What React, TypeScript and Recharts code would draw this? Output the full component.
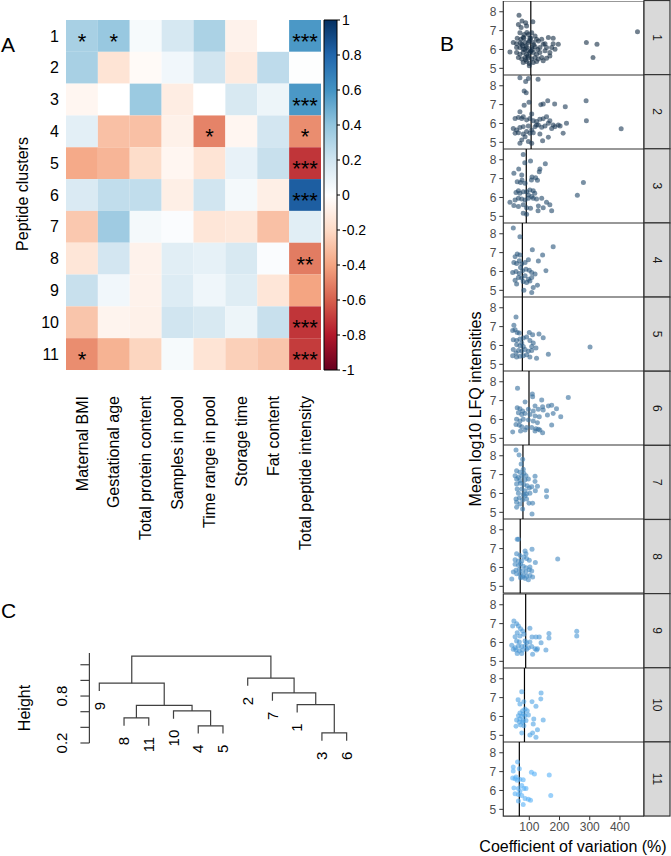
import React from 'react';
import { ScatterChart, Scatter, XAxis, YAxis, ReferenceLine, ReferenceArea } from 'recharts';

const FONT = '"Liberation Sans", Arial, Helvetica, sans-serif';

// ---------- A: correlation heatmap ----------
const variables = [
  'Maternal BMI',
  'Gestational age',
  'Total protein content',
  'Samples in pool',
  'Time range in pool',
  'Storage time',
  'Fat content',
  'Total peptide intensity',
];
const clusterNames = ['1', '2', '3', '4', '5', '6', '7', '8', '9', '10', '11'];

const corrRows: number[][] = [
  [0.33, 0.38, 0.04, 0.18, 0.32, -0.07, 0.0, 0.58],
  [0.33, -0.15, -0.03, 0.06, 0.2, -0.11, 0.26, 0.01],
  [-0.05, 0.0, 0.37, -0.1, 0.0, 0.17, 0.08, 0.58],
  [0.12, -0.3, -0.3, -0.08, -0.5, -0.05, 0.19, -0.47],
  [-0.38, -0.34, -0.19, -0.05, -0.15, 0.1, 0.23, -0.72],
  [0.16, 0.25, 0.25, -0.09, 0.2, 0.05, -0.09, 0.83],
  [-0.27, 0.36, 0.05, 0.02, -0.14, -0.13, -0.3, 0.13],
  [-0.14, 0.19, -0.07, 0.13, 0.11, 0.17, 0.02, -0.52],
  [0.23, 0.06, -0.07, 0.15, 0.07, 0.14, -0.14, -0.4],
  [-0.28, -0.06, -0.08, 0.2, 0.17, 0.08, 0.23, -0.72],
  [-0.47, -0.35, -0.22, 0.04, -0.15, -0.24, -0.28, -0.7],
];

const starRows: string[][] = [
  ['*', '*', '', '', '', '', '', '***'],
  ['', '', '', '', '', '', '', ''],
  ['', '', '', '', '', '', '', '***'],
  ['', '', '', '', '*', '', '', '*'],
  ['', '', '', '', '', '', '', '***'],
  ['', '', '', '', '', '', '', '***'],
  ['', '', '', '', '', '', '', ''],
  ['', '', '', '', '', '', '', '**'],
  ['', '', '', '', '', '', '', ''],
  ['', '', '', '', '', '', '', '***'],
  ['*', '', '', '', '', '', '', '***'],
];

const colorBarTicks = [1, 0.8, 0.6, 0.4, 0.2, 0, -0.2, -0.4, -0.6, -0.8, -1];
const rdbu = ['#67001F', '#B2182B', '#D6604D', '#F4A582', '#FDDBC7', '#FFFFFF', '#D1E5F0', '#92C5DE', '#4393C3', '#2166AC', '#053061'];

const hexRgb = (h: string) => [1, 3, 5].map((i) => parseInt(h.slice(i, i + 2), 16));
const corrColor = (v: number) => {
  const t = ((v + 1) / 2) * (rdbu.length - 1);
  const i = Math.min(Math.floor(t), rdbu.length - 2);
  const f = t - i;
  const a = hexRgb(rdbu[i]);
  const b = hexRgb(rdbu[i + 1]);
  return `rgb(${a.map((c, k) => Math.round(c + (b[k] - c) * f)).join(',')})`;
};

const cells = corrRows.flatMap((row, r) =>
  row.map((v, c) => ({ col: c + 1, row: r + 1, v, stars: starRows[r][c] }))
);

const CELL_W = 255 / 8;
const CELL_H = 350 / 11;

const HeatCell = (p: any) => (
  <g>
    <rect x={p.cx - CELL_W / 2} y={p.cy - CELL_H / 2} width={CELL_W} height={CELL_H} fill={corrColor(p.payload.v)} />
    {p.payload.stars ? (
      <text x={p.cx} y={p.cy + 13} textAnchor="middle" fontSize={22} fontFamily={FONT} fill="#000">
        {p.payload.stars}
      </text>
    ) : null}
  </g>
);

const ColTick = (p: any) => (
  <text
    x={p.x}
    y={p.y}
    dy="0.35em"
    textAnchor="end"
    transform={`rotate(-90 ${p.x} ${p.y})`}
    fontSize={16}
    fontFamily={FONT}
    fill="#000"
  >
    {variables[p.payload.value - 1]}
  </text>
);

const RowTick = (p: any) => (
  <text x={p.x} y={p.y} dy="0.35em" textAnchor="end" fontSize={16} fontFamily={FONT} fill="#000">
    {clusterNames[p.payload.value - 1]}
  </text>
);

// ---------- B: CV vs mean log10 LFQ intensity, one facet per cluster ----------
const cluster1: [number, number][] = [
  [66, 7.81], [76, 7.51], [64, 7.33], [88, 7.42], [112, 7.47], [73, 7.16], [91, 7.24], [108, 6.89], [69, 6.89], [83, 6.8],
  [97, 6.8], [119, 6.72], [82, 6.59], [72, 6.54], [102, 6.59], [124, 6.54], [47, 6.37], [58, 6.31], [75, 6.28], [86, 6.37],
  [97, 6.37], [113, 6.37], [130, 6.45], [141, 6.54], [163, 6.63], [179, 6.59], [146, 6.28], [152, 6.31], [179, 6.31], [196, 6.28],
  [36, 5.87], [58, 6.1], [69, 6.1], [80, 6.01], [91, 6.1], [108, 6.1], [119, 6.14], [135, 6.1], [157, 6.1], [174, 6.1],
  [185, 6.01], [58, 5.84], [69, 5.75], [80, 5.84], [91, 5.75], [102, 5.84], [113, 5.84], [124, 5.75], [135, 5.84], [152, 5.93],
  [168, 5.84], [64, 5.57], [75, 5.49], [86, 5.57], [97, 5.57], [108, 5.49], [119, 5.57], [130, 5.49], [141, 5.57], [157, 5.54],
  [168, 5.66], [80, 5.31], [91, 5.36], [100, 5.26], [113, 5.31], [124, 5.36], [146, 5.4], [100, 5.14], [289, 6.37], [324, 6.28],
  [311, 5.57], [458, 6.94], [85, 6.0], [95, 5.95], [105, 5.9], [90, 6.2], [100, 6.45], [80, 6.65], [110, 6.0], [95, 5.65],
  [88, 5.45], [78, 6.2], [115, 6.25], [128, 6.0], [70, 6.35], [60, 6.6], [105, 6.6], [92, 6.9],
];
const cluster2: [number, number][] = [
  [69, 8.42], [97, 8.39], [129, 8.34], [88, 8.23], [83, 7.72], [90, 7.63], [99, 7.12], [83, 6.96], [69, 6.62], [138, 6.99],
  [146, 7.03], [161, 7.21], [184, 7.03], [219, 6.89], [288, 7.21], [80, 6.36], [108, 6.5], [53, 6.27], [64, 6.32], [75, 6.27],
  [91, 6.18], [102, 6.27], [113, 6.15], [124, 6.1], [135, 6.22], [146, 6.25], [157, 6.36], [168, 6.15], [179, 5.92], [196, 5.92],
  [223, 6.01], [289, 6.15], [404, 5.72], [47, 5.74], [58, 5.65], [69, 5.78], [80, 5.83], [97, 5.87], [108, 5.65], [119, 5.83],
  [130, 5.92], [141, 5.8], [152, 5.87], [163, 6.01], [174, 5.74], [185, 5.83], [202, 5.87], [212, 5.48], [53, 5.48], [64, 5.51],
  [80, 5.44], [91, 5.57], [102, 5.48], [113, 5.51], [135, 5.44], [86, 5.3], [75, 5.13], [69, 4.95], [97, 5.04], [144, 5.09],
  [163, 5.27], [108, 4.95], [124, 5.92],
];
const cluster3: [number, number][] = [
  [80, 8.28], [85, 7.84], [104, 7.93], [153, 7.79], [135, 7.51], [133, 7.37], [65, 7.51], [49, 7.28], [75, 7.19], [109, 7.08],
  [121, 7.05], [107, 6.93], [127, 6.91], [60, 6.84], [71, 6.8], [76, 6.93], [86, 6.75], [279, 6.8], [56, 6.27], [64, 6.35],
  [69, 6.22], [80, 6.31], [91, 6.31], [102, 6.4], [113, 6.35], [118, 6.22], [97, 6.13], [108, 6.05], [259, 6.12], [36, 5.75],
  [53, 5.87], [64, 5.96], [75, 5.92], [86, 5.87], [97, 5.96], [113, 5.96], [124, 5.92], [141, 5.96], [157, 5.75], [168, 5.61],
  [174, 5.29], [49, 5.57], [64, 5.52], [80, 5.61], [91, 5.46], [104, 5.43], [130, 5.55], [146, 5.46], [129, 5.29], [80, 5.17],
  [91, 5.11],
];
const cluster4: [number, number][] = [
  [47, 8.3], [69, 7.84], [110, 7.15], [179, 7.31], [60, 6.92], [69, 6.88], [53, 6.78], [144, 6.88], [97, 6.62], [130, 6.55],
  [49, 6.48], [58, 6.42], [67, 6.57], [75, 6.39], [86, 6.48], [45, 5.95], [56, 6.0], [67, 5.89], [78, 6.04], [89, 6.12],
  [100, 6.07], [108, 5.95], [119, 5.86], [71, 6.21], [64, 5.68], [75, 5.65], [86, 5.77], [97, 5.59], [108, 5.68], [155, 6.04],
  [53, 5.54], [80, 5.47], [91, 5.42], [102, 5.5], [127, 5.27], [113, 5.15], [108, 4.88], [82, 5.01], [58, 5.33],
];
const cluster5: [number, number][] = [
  [56, 7.51], [49, 7.07], [45, 6.8], [53, 6.84], [60, 6.69], [67, 6.66], [100, 6.69], [111, 6.57], [132, 6.61], [146, 6.41],
  [47, 6.31], [58, 6.27], [69, 6.34], [80, 6.4], [91, 6.45], [102, 6.27], [113, 6.13], [58, 6.04], [69, 5.99], [80, 5.95],
  [108, 5.95], [122, 5.87], [47, 5.78], [64, 5.74], [75, 5.69], [97, 5.69], [108, 5.74], [163, 5.53], [45, 5.46], [58, 5.39],
  [69, 5.43], [80, 5.46], [102, 5.39], [124, 5.32], [301, 5.92], [56, 5.6], [91, 5.51], [86, 5.78], [75, 6.13],
];
const cluster6: [number, number][] = [
  [61, 7.66], [110, 7.35], [111, 7.21], [141, 7.03], [229, 7.17], [86, 6.92], [119, 6.71], [144, 6.68], [163, 6.71], [174, 6.75],
  [60, 6.62], [69, 6.57], [78, 6.45], [97, 6.54], [113, 6.45], [130, 6.54], [146, 6.5], [190, 6.57], [64, 6.36], [75, 6.27],
  [86, 6.32], [102, 6.27], [119, 6.18], [133, 6.15], [160, 6.24], [179, 6.32], [204, 6.15], [58, 6.01], [69, 5.92], [80, 6.01],
  [97, 5.97], [113, 5.92], [127, 5.83], [56, 5.74], [67, 5.69], [75, 5.62], [91, 5.57], [108, 5.57], [122, 5.51], [135, 5.44],
  [174, 5.71], [45, 5.34], [71, 5.39], [86, 5.44], [119, 5.39], [144, 5.3], [130, 5.48],
];
const cluster7: [number, number][] = [
  [56, 8.3], [66, 8.04], [78, 7.82], [73, 7.56], [80, 7.29], [58, 7.21], [69, 7.12], [82, 7.07], [53, 6.94], [64, 6.85],
  [75, 6.91], [89, 6.94], [119, 6.91], [58, 6.77], [69, 6.68], [86, 6.71], [97, 6.77], [119, 6.64], [58, 6.5], [71, 6.54],
  [82, 6.47], [93, 6.41], [108, 6.36], [127, 6.38], [100, 6.29], [120, 6.15], [157, 6.15], [60, 6.24], [75, 6.24], [86, 6.15],
  [64, 6.01], [80, 5.94], [91, 5.97], [102, 6.01], [157, 5.83], [56, 5.71], [67, 5.76], [78, 5.65], [91, 5.71], [58, 5.53],
  [69, 5.44], [99, 5.48], [111, 5.48], [58, 5.27], [78, 5.18], [109, 4.91], [86, 5.88],
];
const cluster8: [number, number][] = [
  [60, 7.49], [64, 7.49], [109, 6.96], [86, 6.87], [89, 6.73], [58, 6.73], [69, 6.64], [82, 6.55], [53, 6.41], [64, 6.34],
  [75, 6.34], [91, 6.47], [100, 6.38], [120, 6.27], [194, 6.45], [53, 6.17], [64, 6.11], [71, 6.2], [80, 6.06], [89, 5.99],
  [102, 6.02], [56, 5.85], [67, 5.88], [78, 5.81], [89, 5.76], [100, 5.88], [108, 5.81], [47, 5.76], [58, 5.67], [69, 5.64],
  [80, 5.58], [91, 5.53], [102, 5.58], [111, 5.5], [42, 5.39], [71, 5.46], [86, 5.41], [97, 5.35], [78, 5.5],
];
const cluster9: [number, number][] = [
  [49, 7.14], [58, 6.99], [45, 6.87], [64, 6.87], [71, 6.73], [102, 6.75], [78, 6.61], [60, 6.52], [53, 6.31], [69, 6.34],
  [82, 6.43], [109, 6.29], [122, 6.29], [133, 6.29], [165, 6.47], [165, 6.24], [257, 6.59], [257, 6.34], [58, 6.08], [67, 6.02],
  [86, 6.08], [91, 5.99], [102, 6.02], [139, 5.99], [42, 5.85], [53, 5.72], [64, 5.81], [75, 5.78], [86, 5.81], [97, 5.72],
  [108, 5.78], [119, 5.67], [127, 5.67], [155, 5.6], [56, 5.6], [67, 5.55], [78, 5.6], [91, 5.64], [60, 5.42], [75, 5.42],
  [111, 5.37], [47, 5.64], [124, 5.6],
];
const cluster10: [number, number][] = [
  [75, 7.31], [139, 7.24], [138, 6.92], [63, 6.89], [82, 6.78], [109, 6.78], [69, 6.66], [122, 6.54], [86, 6.4], [93, 6.31],
  [78, 6.31], [69, 6.18], [80, 6.13], [64, 6.04], [75, 6.01], [86, 6.04], [97, 6.08], [58, 5.81], [69, 5.87], [80, 5.78],
  [89, 5.78], [115, 5.87], [146, 5.81], [56, 5.48], [71, 5.55], [82, 5.51], [78, 5.69], [113, 5.6], [127, 5.3], [111, 5.13],
  [122, 4.9], [102, 5.02], [75, 5.13], [67, 5.69],
];
const cluster11: [number, number][] = [
  [61, 7.51], [47, 7.24], [67, 7.15], [47, 7.03], [107, 6.96], [117, 6.87], [166, 6.82], [45, 6.66], [53, 6.62], [60, 6.54],
  [69, 6.59], [80, 6.57], [56, 6.71], [82, 6.1], [89, 6.1], [49, 6.13], [64, 6.1], [53, 5.83], [64, 5.78], [75, 5.74],
  [69, 5.95], [86, 5.57], [97, 5.53], [104, 5.48], [64, 5.44], [80, 5.25], [171, 5.74], [75, 6.27],
];

const clusterPoints = [cluster1, cluster2, cluster3, cluster4, cluster5, cluster6, cluster7, cluster8, cluster9, cluster10, cluster11];
const clusterMedianCV = [105, 106, 90, 77, 77, 99, 79, 70, 88, 84, 67];
const clusterColors = ['#132B43', '#1A3855', '#204667', '#275379', '#2E618B', '#356E9D', '#3B7BAF', '#4289C1', '#4996D3', '#4FA4E5', '#56B1F7'];
const cvTicks = [100, 200, 300, 400];
const lfqTicks = [5, 6, 7, 8];

const FACET_TOP = 0.5;
const FACET_H = 74.14;
const FACET_LEFT = 470;
const FACET_W = 174;
const CV_DOMAIN: [number, number] = [14, 479.5];
const LFQ_DOMAIN: [number, number] = [4.64, 8.57];

// ---------- C: dendrogram of clusters ----------
const leafOrder = [9, 8, 11, 10, 4, 5, 2, 7, 1, 3, 6];
// hclust-style merges: negative = cluster, positive = earlier merge step
const merges: [number, number][] = [[-3, -6], [-4, -5], [-8, -11], [-10, 2], [3, 4], [-1, 1], [-7, 6], [-9, 5], [-2, 7], [8, 9]];
const mergeHeights = [0.33, 0.42, 0.52, 0.61, 0.68, 0.69, 0.84, 0.965, 1.03, 1.31];
const heightTicks = [0.2, 0.4, 0.6, 0.8, 1.0, 1.2];
const HANG = 0.1;

const nodeX: number[] = [];
const leafBottom: Record<number, number> = {};
const branches = merges.map(([a, b], k) => {
  const h = mergeHeights[k];
  const pos = (n: number) => {
    if (n < 0) {
      leafBottom[-n] = h - HANG;
      return { x: leafOrder.indexOf(-n) + 1, y: h - HANG };
    }
    return { x: nodeX[n - 1], y: mergeHeights[n - 1] };
  };
  const l = pos(a);
  const r = pos(b);
  nodeX[k] = (l.x + r.x) / 2;
  return [
    { x: l.x, y: l.y },
    { x: l.x, y: h },
    { x: r.x, y: h },
    { x: r.x, y: r.y },
  ];
});
const leaves = leafOrder.map((id, i) => ({ x: i + 1, y: leafBottom[id], label: String(id) }));

const LeafLabel = (p: any) => {
  const y = p.cy + 11;
  return (
    <text x={p.cx} y={y} dy="0.35em" textAnchor="end" transform={`rotate(-90 ${p.cx} ${y})`} fontSize={15} fontFamily={FONT} fill="#000">
      {p.payload.label}
    </text>
  );
};

const HeightTick = (p: any) => {
  const v = p.payload.value;
  if (v !== 0.2 && v !== 0.8) return <g />;
  return (
    <text x={p.x} y={p.y} dy="0.35em" textAnchor="middle" transform={`rotate(-90 ${p.x} ${p.y})`} fontSize={15} fontFamily={FONT} fill="#000">
      {v.toFixed(1)}
    </text>
  );
};

const Facet = ({ idx }: { idx: number }) => {
  const last = idx === clusterPoints.length - 1;
  const data = clusterPoints[idx].map(([cv, lfq]) => ({ cv, lfq }));
  const color = clusterColors[idx];
  return (
    <div style={{ position: 'absolute', left: FACET_LEFT, top: FACET_TOP + idx * FACET_H }}>
      <ScatterChart width={FACET_W} height={last ? FACET_H + 20 : FACET_H} margin={{ top: 0, right: 0, bottom: 0, left: 0 }}>
        <XAxis
          type="number"
          dataKey="cv"
          domain={CV_DOMAIN}
          ticks={cvTicks}
          hide={!last}
          height={20}
          interval={0}
          axisLine={false}
          tickLine={{ stroke: '#333' }}
          tickSize={4}
          tickMargin={2}
          tick={{ fontSize: 12, fill: '#4D4D4D', fontFamily: FONT }}
        />
        <YAxis
          type="number"
          dataKey="lfq"
          domain={LFQ_DOMAIN}
          ticks={lfqTicks}
          width={33.3}
          interval={0}
          axisLine={false}
          tickLine={{ stroke: '#333' }}
          tickSize={4}
          tickMargin={3}
          tick={{ fontSize: 12, fill: '#4D4D4D', fontFamily: FONT }}
        />
        <Scatter
          data={data}
          isAnimationActive={false}
          shape={(p: any) => <circle cx={p.cx} cy={p.cy} r={2.5} fill={color} fillOpacity={0.6} />}
        />
        <ReferenceLine x={clusterMedianCV[idx]} stroke="#000" strokeWidth={1.2} />
        <ReferenceArea
          x1={CV_DOMAIN[0]}
          x2={CV_DOMAIN[1]}
          y1={LFQ_DOMAIN[0]}
          y2={LFQ_DOMAIN[1]}
          fill="none"
          fillOpacity={0}
          stroke="#333"
          strokeWidth={1.2}
        />
      </ScatterChart>
    </div>
  );
};

const App = () => {
  return (
    <div style={{ position: 'absolute', left: 0, top: 0, width: 671, height: 856, background: '#fff', overflow: 'hidden' }}>
      {/* A: heatmap */}
      <div style={{ position: 'absolute', left: 0, top: 0 }}>
        <ScatterChart width={321} height={580} margin={{ top: 20, right: 0, bottom: 0, left: 0 }}>
          <XAxis
            type="number"
            dataKey="col"
            domain={[0.5, 8.5]}
            ticks={[1, 2, 3, 4, 5, 6, 7, 8]}
            interval={0}
            height={210}
            axisLine={false}
            tickLine={false}
            tickSize={0}
            tickMargin={26}
            tick={(p: any) => <ColTick {...p} />}
          />
          <YAxis
            type="number"
            dataKey="row"
            domain={[0.5, 11.5]}
            reversed
            ticks={[1, 2, 3, 4, 5, 6, 7, 8, 9, 10, 11]}
            interval={0}
            width={66}
            axisLine={false}
            tickLine={false}
            tickSize={0}
            tickMargin={7}
            tick={(p: any) => <RowTick {...p} />}
          />
          <Scatter data={cells} isAnimationActive={false} shape={(p: any) => <HeatCell {...p} />} />
        </ScatterChart>
      </div>

      {/* A: colour legend */}
      <div style={{ position: 'absolute', left: 300, top: 0 }}>
        <ScatterChart width={80} height={580} margin={{ top: 20, right: 0, bottom: 210, left: 24 }}>
          <defs>
            <linearGradient id="rdbuBar" x1="0" y1="1" x2="0" y2="0">
              {rdbu.map((c, i) => (
                <stop key={c} offset={`${(i / (rdbu.length - 1)) * 100}%`} stopColor={c} />
              ))}
            </linearGradient>
          </defs>
          <XAxis type="number" dataKey="x" domain={[0, 1]} hide />
          <YAxis
            type="number"
            dataKey="y"
            yAxisId={0}
            orientation="right"
            domain={[-1, 1]}
            ticks={colorBarTicks}
            interval={0}
            width={43}
            axisLine={false}
            tickLine={{ stroke: '#000' }}
            tickSize={3}
            tickMargin={2}
            tick={{ fontSize: 14, fill: '#000', fontFamily: FONT }}
          />
          <Scatter data={colorBarTicks.map((y) => ({ x: 0.5, y }))} isAnimationActive={false} shape={() => <g />} />
          <ReferenceArea x1={0} x2={1} y1={-1} y2={1} fill="url(#rdbuBar)" fillOpacity={1} stroke="#000" strokeWidth={1} />
        </ScatterChart>
      </div>

      {/* C: dendrogram */}
      <div style={{ position: 'absolute', left: 0, top: 600 }}>
        <ScatterChart width={360} height={180} margin={{ top: 53, right: 8.4, bottom: 37, left: 0 }}>
          <XAxis type="number" dataKey="x" domain={[0.6, 11.2]} hide />
          <YAxis
            type="number"
            dataKey="y"
            domain={[0.2, 1.35]}
            ticks={heightTicks}
            interval={0}
            width={89.4}
            axisLine={{ stroke: '#404040', strokeWidth: 1.2 }}
            tickLine={{ stroke: '#404040', strokeWidth: 1.2 }}
            tickSize={9}
            tickMargin={18.7}
            tick={(p: any) => <HeightTick {...p} />}
          />
          {branches.map((pts, i) => (
            <Scatter
              key={i}
              data={pts}
              line={{ stroke: '#404040', strokeWidth: 1.2 }}
              lineType="joint"
              shape={() => <g />}
              isAnimationActive={false}
            />
          ))}
          <Scatter data={leaves} shape={(p: any) => <LeafLabel {...p} />} isAnimationActive={false} />
        </ScatterChart>
      </div>

      {/* B: facets */}
      {clusterPoints.map((_, i) => (
        <Facet key={i} idx={i} />
      ))}

      {/* titles, panel letters and facet strips */}
      <svg width={671} height={856} style={{ position: 'absolute', left: 0, top: 0, pointerEvents: 'none' }} fontFamily={FONT}>
        <text x={1} y={52} fontSize={21} fill="#000">A</text>
        <text x={440} y={51} fontSize={21} fill="#000">B</text>
        <text x={1} y={618} fontSize={21} fill="#000">C</text>
        <text x={22.5} y={194} dy="0.35em" textAnchor="middle" transform="rotate(-90 22.5 194)" fontSize={16} fill="#000">
          Peptide clusters
        </text>
        <text x={24} y={708} dy="0.35em" textAnchor="middle" transform="rotate(-90 24 708)" fontSize={16} fill="#000">
          Height
        </text>
        <text x={475} y={409} dy="0.35em" textAnchor="middle" transform="rotate(-90 475 409)" fontSize={16} fill="#000">
          Mean log10 LFQ intensities
        </text>
        <text x={573} y={852} textAnchor="middle" fontSize={16} fill="#000">
          Coefficient of variation (%)
        </text>
        {clusterNames.map((name, i) => {
          const top = FACET_TOP + i * FACET_H;
          const cy = top + FACET_H / 2;
          return (
            <g key={name}>
              <rect x={644} y={top} width={26} height={FACET_H} fill="#D9D9D9" stroke="#333" strokeWidth={1.2} />
              <text x={657} y={cy} dy="0.35em" textAnchor="middle" transform={`rotate(90 657 ${cy})`} fontSize={12} fill="#1A1A1A">
                {name}
              </text>
            </g>
          );
        })}
      </svg>
    </div>
  );
};

export default App;
